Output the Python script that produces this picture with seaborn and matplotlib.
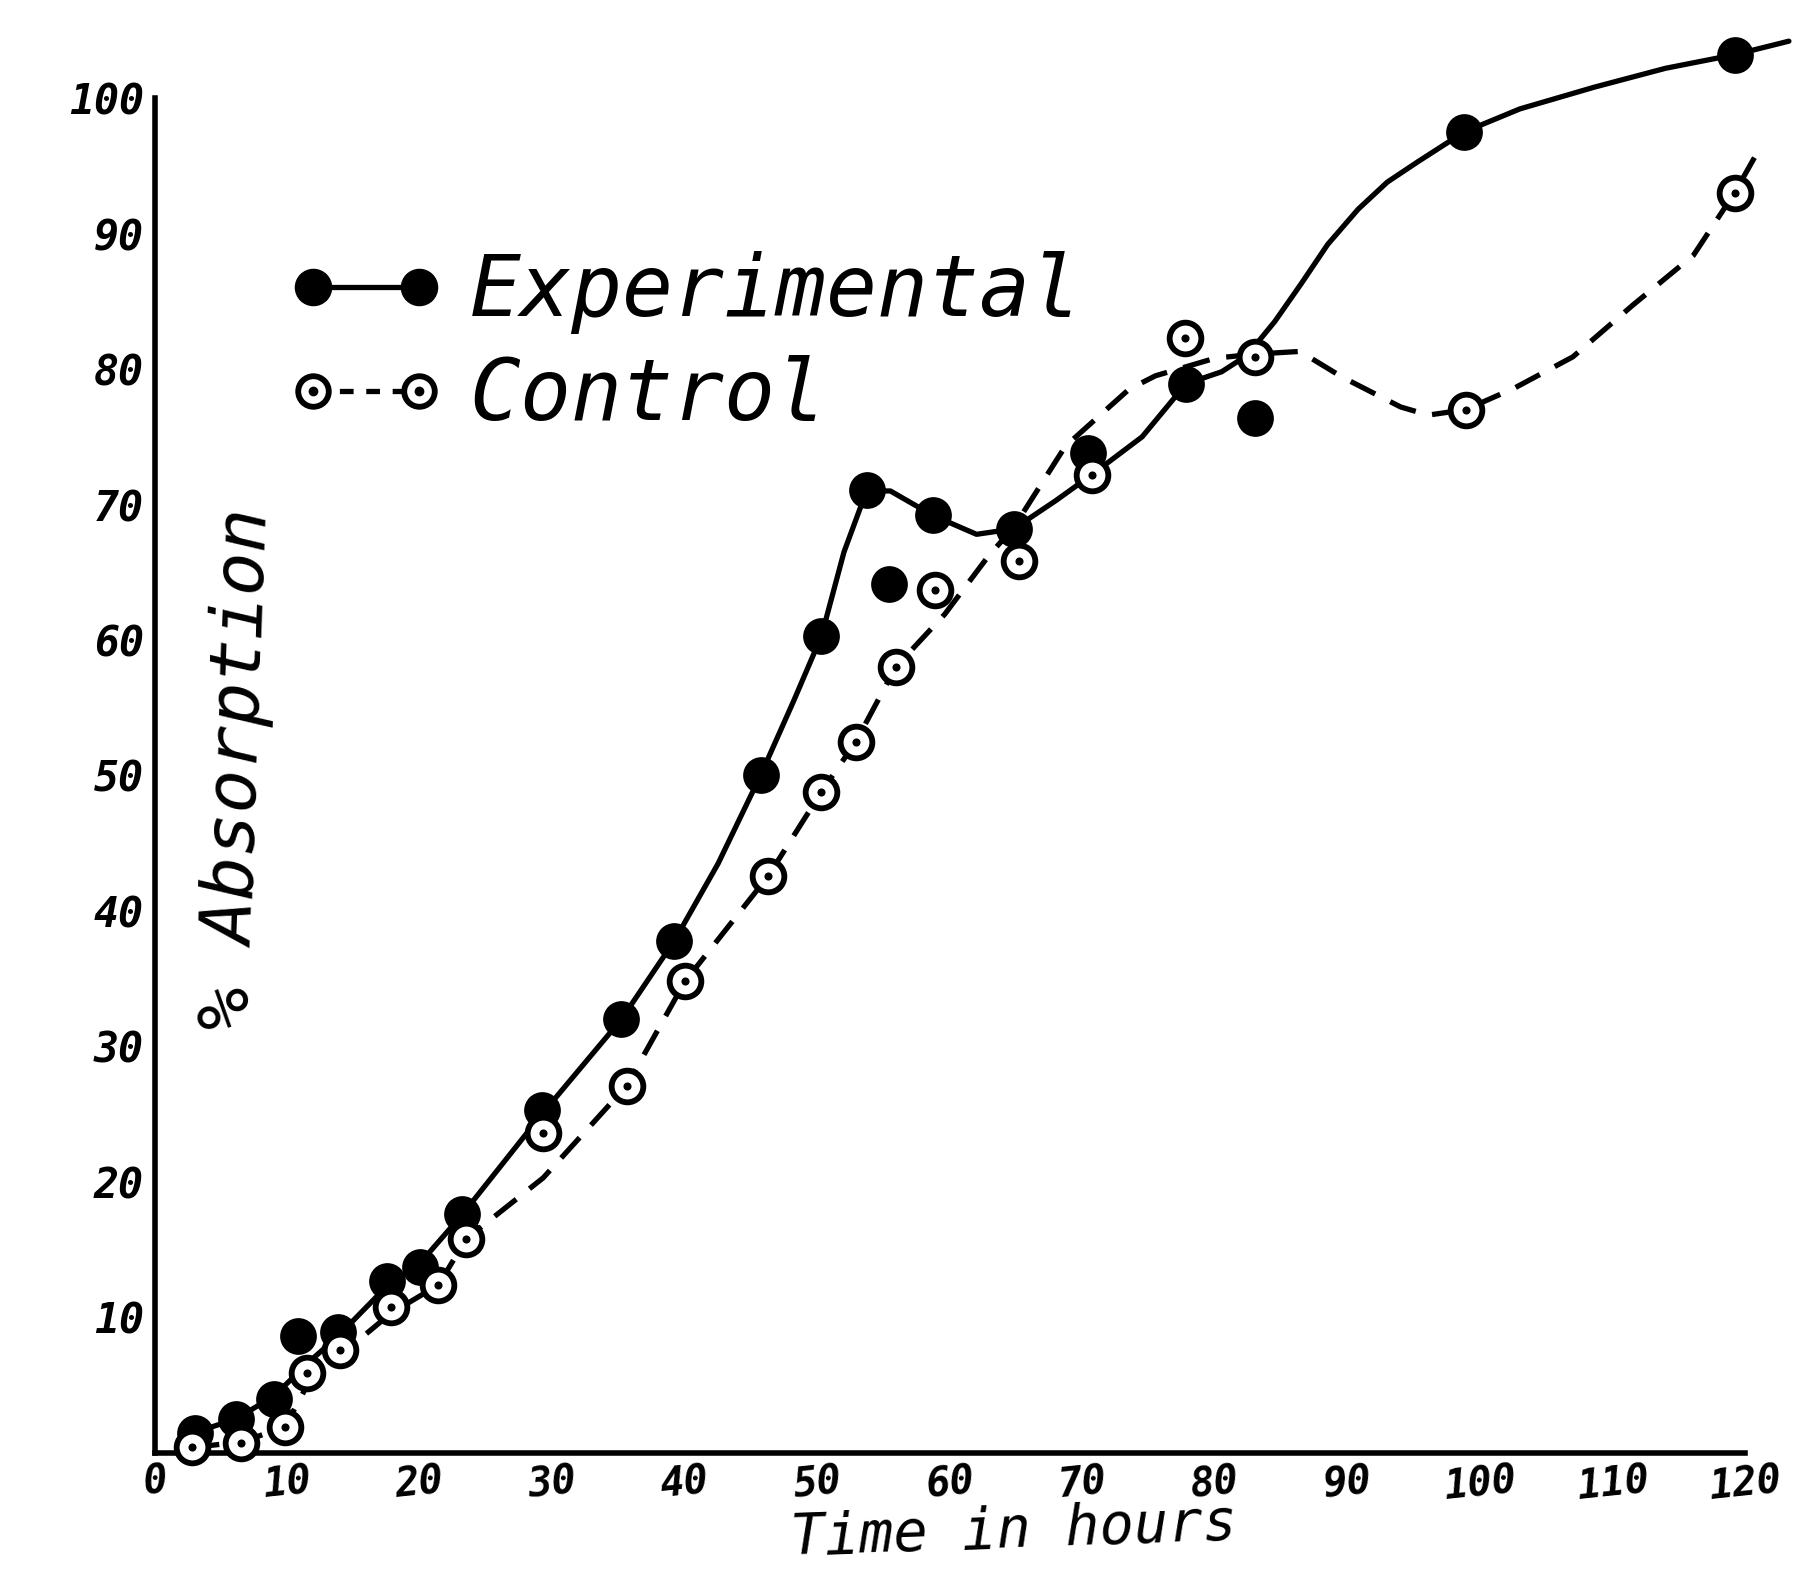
import matplotlib
matplotlib.use("Agg")
import matplotlib.pyplot as plt
from matplotlib.lines import Line2D
from matplotlib.legend_handler import HandlerTuple
import seaborn as sns
import pandas as pd

# ---- data ----
exp_hours = [3.0, 6.1, 9.0, 10.8, 13.8, 17.5, 20.0, 23.2, 29.2, 35.2, 39.2, 45.7,
             50.3, 53.7, 55.4, 58.7, 64.8, 70.4, 77.8, 83.0, 98.8, 119.2]
exp_absorption = [1.5, 2.5, 4.0, 8.6, 8.9, 12.7, 13.7, 17.6, 25.3, 32.0, 37.8, 50.0,
                  60.3, 71.1, 64.1, 69.2, 68.2, 73.8, 78.9, 76.4, 97.5, 103.2]

ctrl_hours = [2.8, 6.5, 9.8, 11.5, 14.0, 17.8, 21.4, 23.5, 29.3, 35.6, 40.0, 46.3,
              50.3, 52.9, 55.9, 58.9, 65.2, 70.7, 77.7, 83.0, 98.9, 119.2]
ctrl_absorption = [0.4, 0.7, 1.9, 5.9, 7.6, 10.8, 12.4, 15.8, 23.6, 27.1, 34.8, 42.6,
                   48.8, 52.5, 58.0, 63.7, 65.8, 72.2, 82.3, 80.9, 77.0, 93.0]

# hand-drawn curve paths
exp_curve_hours = [3.0, 6.1, 9.0, 11.5, 13.8, 17.5, 20.0, 23.2, 29.2, 35.2, 39.2, 42.5,
                   45.7, 48.2, 50.3, 52.0, 53.7, 55.5, 58.7, 62.0, 64.8, 68.0, 70.7,
                   74.5, 77.8, 80.5, 82.4, 84.5, 86.5, 88.5, 90.8, 93.0, 95.3, 98.8,
                   103.0, 108.6, 114.0, 119.2, 123.3]
exp_curve_abs = [1.5, 2.5, 4.2, 6.6, 8.6, 12.3, 14.0, 17.6, 25.0, 32.0, 37.8, 43.5,
                 50.0, 55.5, 60.3, 66.5, 71.0, 71.0, 69.2, 67.8, 68.2, 70.3, 72.2,
                 75.0, 78.9, 79.8, 81.0, 83.5, 86.3, 89.2, 91.8, 93.8, 95.3, 97.5,
                 99.2, 100.8, 102.2, 103.2, 104.2]

ctrl_curve_hours = [2.8, 6.5, 9.8, 11.5, 14.0, 17.8, 21.4, 23.5, 29.3, 35.6, 40.0, 46.3,
                    50.3, 52.9, 55.9, 59.6, 62.9, 64.8, 68.7, 73.5, 75.5, 80.0, 83.0,
                    86.4, 89.6, 94.0, 96.1, 98.9, 102.6, 107.0, 111.5, 116.1, 119.2,
                    121.1]
ctrl_curve_abs = [0.4, 0.8, 1.9, 5.0, 7.2, 10.3, 12.4, 15.8, 20.3, 27.1, 34.8, 42.6,
                  48.8, 52.5, 58.0, 61.9, 66.2, 68.3, 74.3, 78.5, 79.5, 80.8, 81.1,
                  81.3, 79.4, 77.2, 76.6, 77.0, 78.6, 80.9, 84.7, 88.4, 93.0, 96.3]

x_ticks = [0, 10, 20, 30, 40, 50, 60, 70, 80, 90, 100, 110, 120]
y_ticks = [10, 20, 30, 40, 50, 60, 70, 80, 90, 100]

# ---- plotting ----
sns.set_theme(style="white")
FONT = ["DejaVu Sans Mono", "DejaVu Sans"]
plt.rcParams["font.family"] = FONT

fig = plt.figure(figsize=(18.01, 15.69), dpi=100)
ax = fig.add_axes([0.086, 0.074, 0.883, 0.8635])

exp_curve = pd.DataFrame({"h": exp_curve_hours, "a": exp_curve_abs})
ctrl_curve = pd.DataFrame({"h": ctrl_curve_hours, "a": ctrl_curve_abs})
exp_df = pd.DataFrame({"h": exp_hours, "a": exp_absorption})
ctrl_df = pd.DataFrame({"h": ctrl_hours, "a": ctrl_absorption})

LW = 3.8
DASH = (0, (5.2, 3.2))
sns.lineplot(data=exp_curve, x="h", y="a", ax=ax, color="black", lw=LW,
             sort=False, estimator=None, clip_on=False)
sns.lineplot(data=ctrl_curve, x="h", y="a", ax=ax, color="black", lw=LW,
             sort=False, estimator=None, clip_on=False, linestyle=DASH)

sns.scatterplot(data=exp_df, x="h", y="a", ax=ax, color="black", s=700,
                edgecolor="black", linewidth=0, zorder=5, clip_on=False)
sns.scatterplot(data=ctrl_df, x="h", y="a", ax=ax, color="white", s=520,
                edgecolor="black", linewidth=4.2, zorder=6, clip_on=False)
sns.scatterplot(data=ctrl_df, x="h", y="a", ax=ax, color="black", s=34,
                edgecolor="black", linewidth=0, zorder=7, clip_on=False)

ax.set_xlim(0, 120)
ax.set_ylim(0, 100)
ax.set_xticks(x_ticks)
ax.set_xticklabels([str(t) for t in x_ticks])
ax.set_yticks(y_ticks)
ax.set_yticklabels([str(t) for t in y_ticks])

for s in ["top", "right"]:
    ax.spines[s].set_visible(False)
for s in ["left", "bottom"]:
    ax.spines[s].set_linewidth(4.0)
    ax.spines[s].set_color("black")

ax.tick_params(axis="both", direction="in", length=12, width=3.5, color="black",
               labelcolor="black")
ax.tick_params(axis="x", pad=6)
ax.tick_params(axis="y", pad=8)
for lab in ax.get_xticklabels():
    lab.set_fontsize(29)
    lab.set_fontstyle("italic")
    lab.set_fontweight("bold")
    lab.set_rotation(6)
for lab in ax.get_yticklabels():
    lab.set_fontsize(30)
    lab.set_fontstyle("italic")
    lab.set_fontweight("bold")

ax.set_xlabel("Time in hours", fontsize=41, fontstyle="italic", rotation=2,
              color="black")
ax.xaxis.label.set_verticalalignment("center")
ax.xaxis.set_label_coords(0.54, -0.058)
ax.set_ylabel("% Absorption", fontsize=52, fontstyle="italic", rotation=88,
              color="black")
ax.yaxis.label.set_verticalalignment("center")
ax.yaxis.set_label_coords(0.052, 0.505)

h_exp = Line2D([], [], color="black", lw=LW, marker="o", ms=26,
               markerfacecolor="black", markeredgecolor="black")
h_ctrl = Line2D([], [], color="black", lw=LW, linestyle=(0, (2.6, 2.4)), marker="o",
                ms=22, markerfacecolor="white", markeredgecolor="black", mew=4.2)
h_dot = Line2D([], [], color="black", lw=0, marker="o", ms=6)
leg = ax.legend([h_exp, (h_ctrl, h_dot)], ["Experimental", "Control"],
                handler_map={tuple: HandlerTuple(ndivide=1, pad=0)},
                numpoints=2, loc="upper left", bbox_to_anchor=(0.0834, 0.887),
                frameon=False, handlelength=1.85, handletextpad=0.3,
                labelspacing=0.25, borderpad=0, borderaxespad=0,
                prop={"size": 61, "style": "italic", "family": FONT})
for t in leg.get_texts():
    t.set_color("black")

fig.savefig("out.png", dpi=100)
